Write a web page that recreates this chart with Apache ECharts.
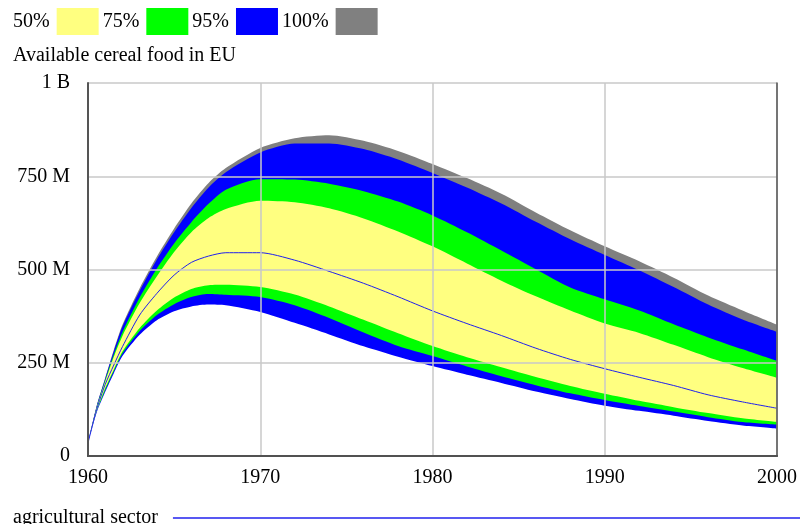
<!DOCTYPE html>
<html>
<head>
<meta charset="utf-8">
<script src="https://cdn.jsdelivr.net/npm/echarts@6/dist/echarts.min.js"></script>
<style>
html,body{margin:0;padding:0;background:#fff;}
#chart{width:800px;height:524px;}
</style>
</head>
<body>
<div id="chart"></div>
<script>
// Values in millions
var years      = [1960, 1960.5, 1961, 1961.5, 1962, 1963, 1964, 1965, 1966, 1967, 1968, 1970, 1972, 1974, 1976, 1978, 1980, 1982, 1984, 1986, 1988, 1990, 1992, 1994, 1996, 1998, 2000];
var maxBand    = [35, 134, 210, 285, 352, 450, 535, 610, 677, 732, 772, 826, 852, 860, 845, 818, 783, 745, 703, 653, 605, 562, 522, 478, 430, 390, 352];
var upper95    = [35, 133, 208, 281, 347, 443, 527, 600, 665, 720, 761, 814, 838, 838, 823, 795, 759, 720, 677, 628, 581, 539, 498, 453, 406, 366, 333];
var upper75    = [35, 130, 203, 272, 332, 425, 503, 570, 627, 676, 714, 742, 741, 730, 710, 682, 645, 600, 551, 501, 452, 420, 390, 353, 318, 286, 255];
var upper50    = [35, 128, 199, 266, 322, 410, 482, 547, 600, 638, 662, 684, 680, 664, 637, 602, 562, 516, 470, 428, 390, 355, 330, 298, 265, 236, 210];
var baseRun    = [35, 124, 192, 244, 293, 378, 436, 485, 519, 536, 545, 545, 525, 495, 463, 427, 389, 355, 323, 289, 259, 234, 211, 189, 164, 145, 128];
var lower50    = [35, 120, 182, 232, 280, 343, 390, 425, 448, 458, 459, 453, 433, 401, 365, 329, 295, 265, 238, 212, 188, 167, 148, 131, 115, 101, 91];
var lower75    = [35, 118, 177, 228, 275, 335, 378, 407, 426, 434, 432, 426, 404, 370, 331, 295, 268, 240, 214, 190, 168, 150, 134, 119, 104, 91, 84];
var lower95    = [35, 116, 172, 222, 268, 325, 364, 388, 401, 406, 404, 386, 357, 326, 294, 266, 241, 218, 196, 173, 153, 135, 121, 108, 94, 82, 74];
var xTicks = [1960, 1970, 1980, 1990, 2000];
var yTickLabels = {0: '0', 250: '250 M', 500: '500 M', 750: '750 M', 1000: '1 B'};

function pairs(arr) { return years.map(function (y, i) { return [y, arr[i]]; }); }

var FONT = 'Liberation Serif';
var YELLOW = '#ffff80', GREEN = '#00ff00', BLUE = '#0000ff', GRAY = '#808080', LINE = '#2020ee';

function band(name, arr, color) {
  return {
    name: name, type: 'line', data: pairs(arr), symbol: 'none', smooth: 0.25,
    color: color, itemStyle: {color: color},
    lineStyle: {width: 0, color: color},
    areaStyle: {color: color, opacity: 1, origin: 'start'},
    silent: true, animation: false
  };
}

var chart = echarts.init(document.getElementById('chart'), null, {renderer: 'canvas'});
chart.setOption({
  animation: false,
  backgroundColor: '#fff',
  title: {
    text: 'Available cereal food in EU', left: 13, top: 46, padding: 0,
    textStyle: {fontFamily: FONT, fontSize: 20, fontWeight: 'normal', color: '#000'}
  },
  legend: [{
    data: ['50%', '75%', '95%', '100%'], left: 13, top: 8, padding: 0,
    align: 'right', icon: 'rect', itemWidth: 42, itemHeight: 27, itemGap: 4,
    selectedMode: false,
    textStyle: {fontFamily: FONT, fontSize: 20, color: '#000', padding: [0, 2, 0, 0]}
  }, {
    data: ['agricultural sector'], left: 13, top: 508, padding: 0,
    align: 'right', icon: 'rect', itemWidth: 640, itemHeight: 1.5, itemGap: 0,
    selectedMode: false,
    textStyle: {fontFamily: FONT, fontSize: 20, color: '#000', padding: [0, 10, 0, 0]}
  }],
  grid: {left: 88, right: 23, top: 83, bottom: 68, containLabel: false},
  xAxis: [{
    type: 'value', min: xTicks[0], max: xTicks[xTicks.length - 1], interval: 10, z: 10,
    axisLine: {show: true, lineStyle: {color: '#444', width: 2}},
    axisTick: {show: false},
    axisLabel: {fontFamily: FONT, fontSize: 20, color: '#000', margin: 12, formatter: function (v) { return String(v); }},
    splitLine: {show: true, lineStyle: {color: '#c8c8c8', width: 1.5}}
  }, {
    type: 'value', position: 'top', min: xTicks[0], max: xTicks[xTicks.length - 1], z: 10,
    axisLine: {show: true, lineStyle: {color: '#555', width: 1.5}},
    axisTick: {show: false}, axisLabel: {show: false}, splitLine: {show: false}
  }],
  yAxis: [{
    type: 'value', min: 0, max: 1000, interval: 250, z: 10,
    axisLine: {show: true, lineStyle: {color: '#555', width: 2}},
    axisTick: {show: false},
    axisLabel: {fontFamily: FONT, fontSize: 20, color: '#000', margin: 18, padding: [5, 0, 0, 0], formatter: function (v) { return yTickLabels[v]; }},
    splitLine: {show: true, lineStyle: {color: '#c8c8c8', width: 1.5}}
  }, {
    type: 'value', position: 'right', min: 0, max: 1000, z: 10,
    axisLine: {show: true, lineStyle: {color: '#555', width: 1.5}},
    axisTick: {show: false}, axisLabel: {show: false}, splitLine: {show: false}
  }],
  series: [
    band('100%', maxBand, GRAY),
    band('95%', upper95, BLUE),
    band('75%', upper75, GREEN),
    band('50%', upper50, YELLOW),
    band('75%', lower50, GREEN),
    band('95%', lower75, BLUE),
    band('lowerEdge', lower95, '#ffffff'),
    {
      name: 'agricultural sector', type: 'line', data: pairs(baseRun), symbol: 'none', smooth: 0.25,
      color: LINE, itemStyle: {color: LINE}, lineStyle: {color: LINE, width: 1}, z: 5
    }
  ]
});
</script>
</body>
</html>
